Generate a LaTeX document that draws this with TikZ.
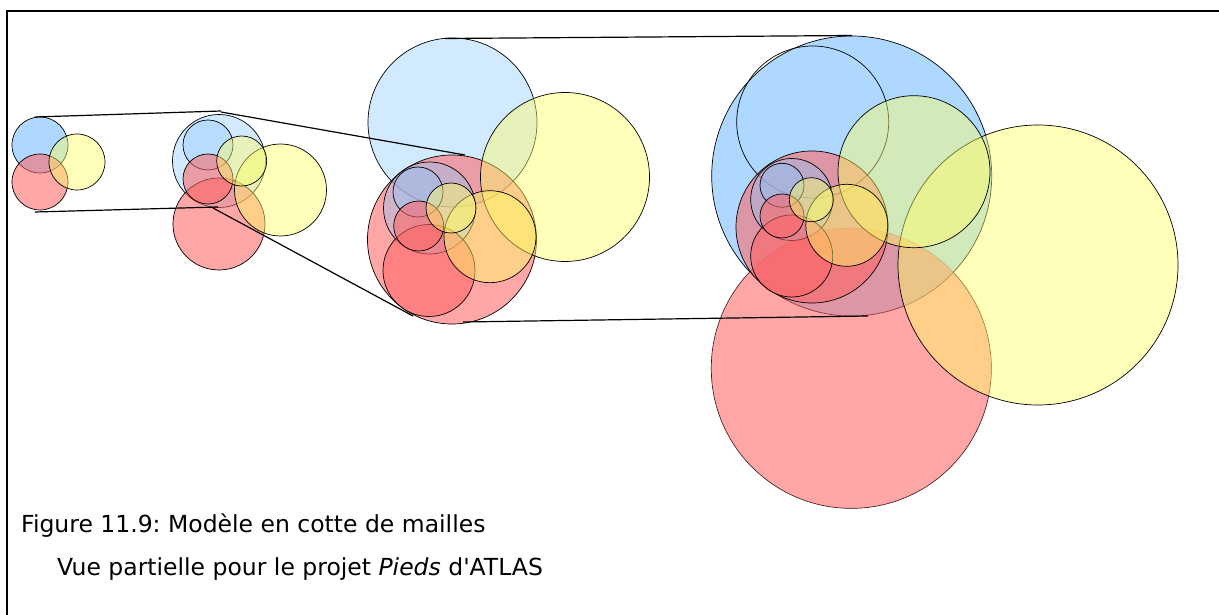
\documentclass[tikz,border=0pt]{standalone}
\usepackage{fontspec}
\newfontfamily\capfont{DejaVu Sans}[Ligatures=TeXOff]
\definecolor{cblue}{RGB}{140,200,255}
\definecolor{cred}{RGB}{255,100,100}
\definecolor{cyel}{RGB}{255,255,100}
\tikzset{
  ring/.style={draw=black, line width=0.7pt},
  cb/.style={ring, fill=cblue, fill opacity=0.7},
  cbl/.style={ring, fill=cblue, fill opacity=0.39},
  cr/.style={ring, fill=cred, fill opacity=0.57},
  crfill/.style={fill=cred, fill opacity=0.57},
  cy/.style={ring, fill=cyel, fill opacity=0.445},
  co/.style={ring},
  link/.style={draw=black, line width=1.2pt},
  frame/.style={draw=black, line width=2pt},
  captext/.style={anchor=base west, inner sep=0pt, font=\capfont\fontsize{23.5}{28}\selectfont}
}
\begin{document}
\frenchspacing
\begin{tikzpicture}[x=1pt,y=-1pt]
\useasboundingbox (0,0) rectangle (1219,615);
% frame
\coordinate (fbl) at (7,615);
\coordinate (ftl) at (7,11);
\coordinate (ftr) at (1219,11);
\path[frame] (fbl) -- (ftl) -- (ftr);

% ---------- group 1 ----------
\path[cb] (40,145) circle[radius=28pt];
\path[cr] (40,182) circle[radius=28pt];
\path[cy] (77,162) circle[radius=28pt];

% ---------- group 2 ----------
\path[cbl] (219,161) circle[radius=46.5pt];
\path[cr] (219,224) circle[radius=46pt];
\path[cy] (280.5,190) circle[radius=46pt];
\path[cbl] (208,145) circle[radius=25pt];
\path[cr] (208,179) circle[radius=25pt];
\path[cy] (241.7,161) circle[radius=25pt];

% ---------- group 3 ----------
\path[cbl] (452.5,122.5) circle[radius=84.5pt];
\path[cr] (452,239.5) circle[radius=84.5pt];
\path[cy] (565,177) circle[radius=84.5pt];
\path[cbl] (429.5,208) circle[radius=46pt];
\path[cr] (429,270.5) circle[radius=46pt];
\path[cy] (490,236.7) circle[radius=46pt];
\path[cbl] (418,192) circle[radius=25pt];
\path[cr] (418.7,226) circle[radius=25pt];
\path[cy] (451,208) circle[radius=25pt];

% ---------- group 4 ----------
\path[ring] (851.3,368.3) circle[radius=140pt];
\path[cb] (851.7,176) circle[radius=140pt];
\path[crfill] (851.3,368.3) circle[radius=140pt];
\path[cy] (1038,265) circle[radius=140pt];
\path[co] (812.7,122) circle[radius=76pt];
\path[cr] (812,227) circle[radius=76pt];
\path[cy] (914,171.7) circle[radius=76pt];
\path[cbl] (791.7,199.5) circle[radius=41pt];
\path[cr] (791.7,256) circle[radius=41pt];
\path[cy] (846.8,225.3) circle[radius=41pt];
\path[cbl] (782,185.3) circle[radius=22pt];
\path[cr] (782,216) circle[radius=22pt];
\path[cy] (811.3,199.7) circle[radius=22pt];

% ---------- connectors ----------
\coordinate (a1) at (35,117);   \coordinate (a2) at (221,111);
\coordinate (b1) at (35,212);   \coordinate (b2) at (218,207);
\coordinate (c1) at (221,112);  \coordinate (c2) at (465,155);
\coordinate (d1) at (213,208);  \coordinate (d2) at (413,316);
\coordinate (e1) at (445,38.5); \coordinate (e2) at (852,35.5);
\coordinate (f1) at (463,322);  \coordinate (f2) at (868,316);
\path[link] (a1) -- (a2);
\path[link] (b1) -- (b2);
\path[link] (c1) -- (c2);
\path[link] (d1) -- (d2);
\path[link] (e1) -- (e2);
\path[link] (f1) -- (f2);

% ---------- caption ----------
\node[captext] (cap1) at (21,532.5) {Figure 11.9: Modèle en cotte de mailles};
\node[captext] (cap2) at (57,575) {Vue partielle pour le projet \textit{Pieds} d'ATLAS};
\end{tikzpicture}
\end{document}
